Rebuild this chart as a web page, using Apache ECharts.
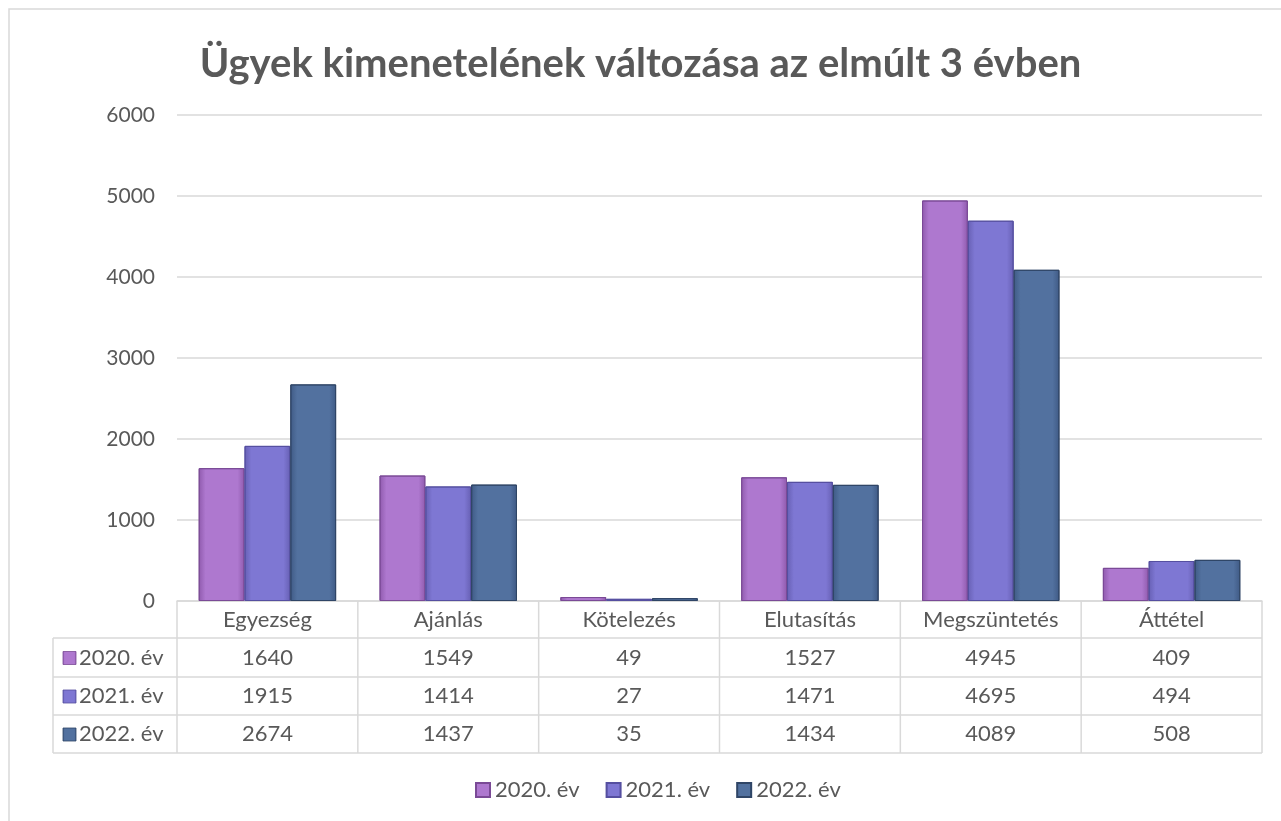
<!DOCTYPE html>
<html>
<head>
<meta charset="utf-8">
<script src="https://cdn.jsdelivr.net/npm/echarts@6/dist/echarts.min.js"></script>
<style>
  html, body { margin: 0; padding: 0; background: #fff; }
  #chart { width: 1281px; height: 821px; }
</style>
</head>
<body>
<div id="chart"></div>
<script>
var categories = ['Egyezség', 'Ajánlás', 'Kötelezés', 'Elutasítás', 'Megszüntetés', 'Áttétel'];
var seriesNames = ['2020. év', '2021. év', '2022. év'];
var v2020 = [1640, 1549, 49, 1527, 4945, 409];
var v2021 = [1915, 1414, 27, 1471, 4695, 494];
var v2022 = [2674, 1437, 35, 1434, 4089, 508];
var yTicks = [0, 1000, 2000, 3000, 4000, 5000, 6000];

var values = [v2020, v2021, v2022];
var FONT = 'Lato, "Open Sans", sans-serif';
var TXT = '#595959';
var LINE = '#d9d9d9';

// bar colours: edge, face, border
var palette = [
  ['#8f5aad', '#ae78cf', '#7a4a96'],
  ['#6760b4', '#7e77d3', '#554fa0'],
  ['#3f5a85', '#52719f', '#2f4566']
];

function barFill(p) {
  return new echarts.graphic.LinearGradient(0, 0, 1, 0, [
    {offset: 0, color: p[0]},
    {offset: 0.15, color: p[1]},
    {offset: 0.85, color: p[1]},
    {offset: 1, color: p[0]}
  ]);
}

var chart = echarts.init(document.getElementById('chart'));

var series = seriesNames.map(function (n, i) {
  return {
    name: n,
    type: 'bar',
    data: values[i],
    barGap: '0%',
    barCategoryGap: '24%',
    itemStyle: {color: barFill(palette[i]), borderColor: palette[i][2], borderWidth: 1},
    emphasis: {disabled: true}
  };
});

chart.setOption({
  animation: false,
  textStyle: {fontFamily: FONT},
  title: {
    text: 'Ügyek kimenetelének változása az elmúlt 3 évben',
    left: 'center',
    top: 39,
    textStyle: {fontSize: 40, fontWeight: 'bold', color: TXT, fontFamily: FONT}
  },
  legend: {
    data: seriesNames,
    bottom: 15,
    left: 470,
    itemWidth: 14,
    itemHeight: 14,
    itemGap: 26,
    icon: 'rect',
    textStyle: {fontSize: 22, color: TXT, fontFamily: FONT}
  },
  grid: {left: 177, right: 19, top: 115, bottom: 220, containLabel: false},
  xAxis: {
    type: 'category',
    data: categories,
    axisLine: {show: true, lineStyle: {color: LINE, width: 1.5}},
    axisTick: {show: false},
    axisLabel: {show: false}
  },
  yAxis: {
    type: 'value',
    min: yTicks[0],
    max: yTicks[yTicks.length - 1],
    interval: 1000,
    axisLine: {show: false},
    axisTick: {show: false},
    axisLabel: {color: TXT, fontSize: 21, margin: 22, fontFamily: FONT, formatter: function (v) { return String(v); }},
    splitLine: {lineStyle: {color: LINE, width: 1.5}}
  },
  series: series
});

// data table under the axis, built from the category scale
var c0 = chart.convertToPixel({xAxisIndex: 0}, 0);
var c1 = chart.convertToPixel({xAxisIndex: 0}, 1);
var band = c1 - c0;
var y0 = chart.convertToPixel({yAxisIndex: 0}, 0);
var xl = c0 - band / 2;
var xr = xl + band * categories.length;
var tableLeft = 53;
var rowTops = [y0, y0 + 37, y0 + 76, y0 + 114, y0 + 152];
var cellFont = '22px ' + FONT;

var g = [];
g.push({type: 'rect', shape: {x: 9, y: 9, width: 1400, height: 900}, style: {fill: 'none', stroke: LINE, lineWidth: 1.5}, silent: true});
// horizontal lines
for (var r = 1; r < rowTops.length; r++) {
  g.push({type: 'line', shape: {x1: tableLeft, y1: rowTops[r], x2: xr, y2: rowTops[r]}, style: {stroke: LINE, lineWidth: 1.5}});
}
// vertical lines
for (var c = 0; c <= categories.length; c++) {
  var x = xl + band * c;
  g.push({type: 'line', shape: {x1: x, y1: y0, x2: x, y2: rowTops[4]}, style: {stroke: LINE, lineWidth: 1.5}});
}
g.push({type: 'line', shape: {x1: tableLeft, y1: rowTops[1], x2: tableLeft, y2: rowTops[4]}, style: {stroke: LINE, lineWidth: 1.5}});
// header text
categories.forEach(function (name, i) {
  g.push({type: 'text', x: xl + band * (i + 0.5), y: (rowTops[0] + rowTops[1]) / 2,
    style: {text: name, fill: TXT, font: cellFont, align: 'center', verticalAlign: 'middle'}});
});
// rows
seriesNames.forEach(function (n, s) {
  var cy = (rowTops[s + 1] + rowTops[s + 2]) / 2;
  g.push({type: 'rect', shape: {x: 63, y: cy - 6, width: 13, height: 13}, style: {fill: barFill(palette[s]), stroke: palette[s][2], lineWidth: 0.8}});
  g.push({type: 'text', x: 79, y: cy, style: {text: n, fill: TXT, font: cellFont, align: 'left', verticalAlign: 'middle'}});
  values[s].forEach(function (v, i) {
    g.push({type: 'text', x: xl + band * (i + 0.5), y: cy,
      style: {text: String(v), fill: TXT, font: cellFont, align: 'center', verticalAlign: 'middle'}});
  });
});

chart.setOption({graphic: g});
</script>
</body>
</html>
